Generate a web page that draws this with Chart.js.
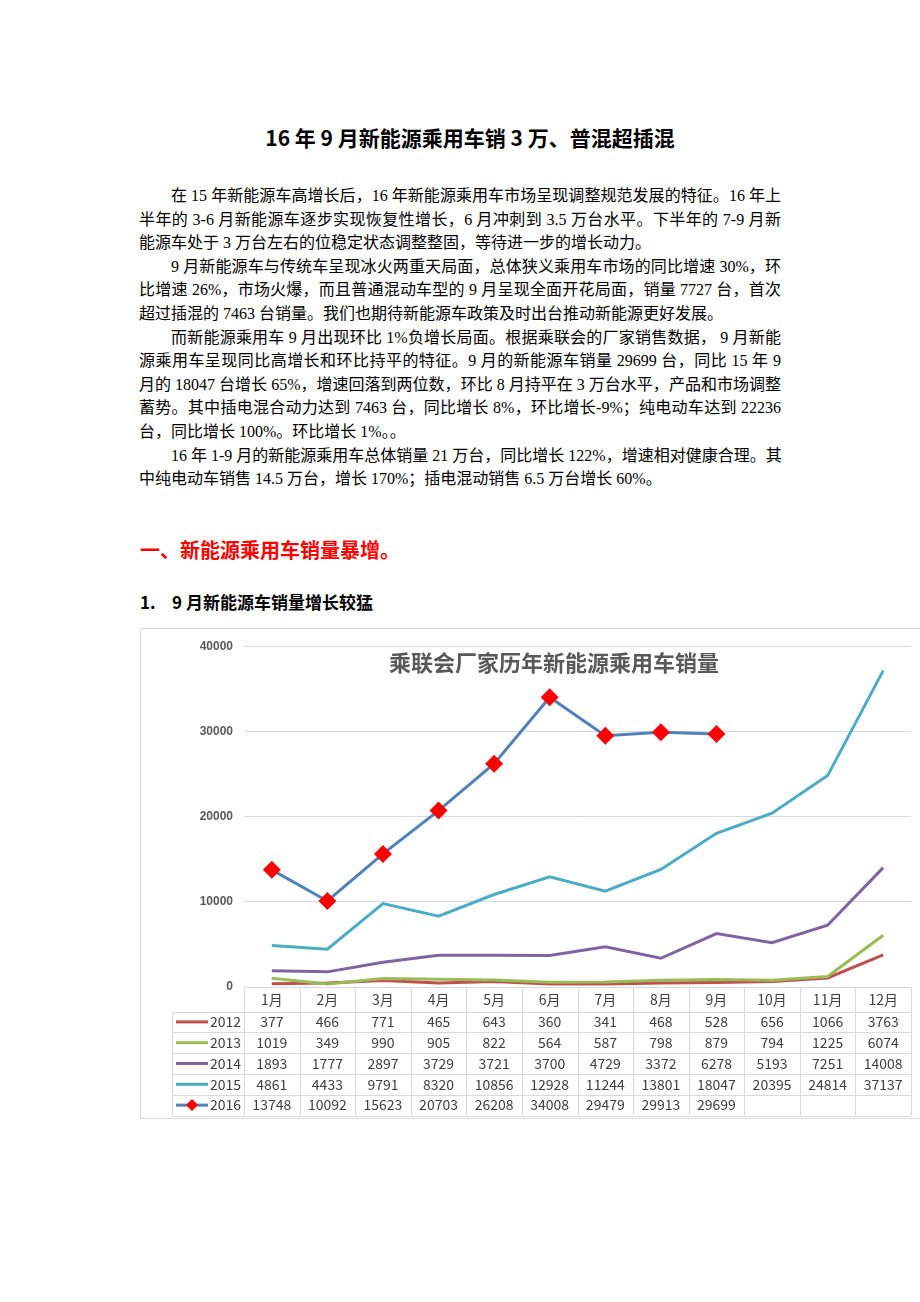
<!DOCTYPE html>
<html>
<head>
<meta charset="utf-8">
<script src="https://cdn.jsdelivr.net/npm/chart.js@4/dist/chart.umd.min.js"></script>
<style>
  html, body { margin: 0; padding: 0; background: #fff; }
  body { width: 920px; height: 1302px; position: relative; overflow: hidden; }
  .title {
    position: absolute; left: 149px; width: 642px; top: 124px;
    text-align: center; font: bold 21px "Noto Sans CJK SC", sans-serif; color: #000;
    line-height: 26px;
  }
  .body {
    position: absolute; left: 139px; width: 642px; top: 184px;
    font-family: "Liberation Serif", "Noto Sans CJK SC", serif; font-size: 16px; color: #000;
  }
  .body div { line-height: 23.6px; height: 23.6px; white-space: nowrap; text-align: justify; text-align-last: justify; }
  .body div.in { padding-left: 32px; }
  .body div.end { text-align-last: left; }
  .h1 {
    position: absolute; left: 140px; top: 536px;
    font: bold 20px "Noto Sans CJK SC", sans-serif; color: #ff0000; line-height: 28px;
  }
  .h2 {
    position: absolute; left: 140px; top: 589px;
    font: bold 17px "Noto Sans CJK SC", sans-serif; color: #000; line-height: 26px;
  }
  .h2 span { display: inline-block; width: 32px; }
  .box {
    position: absolute; left: 140px; top: 628px; width: 800px; height: 489px;
    border: 1px solid #d9d9d9;
  }
  #wrap { position: absolute; left: 140px; top: 628px; width: 780px; height: 492px; }
</style>
</head>
<body>
<div class="title">16 年 9 月新能源乘用车销 3 万、普混超插混</div>
<div class="body">
  <div class="in">在 15 年新能源车高增长后，16 年新能源乘用车市场呈现调整规范发展的特征。16 年上</div>
  <div>半年的 3-6 月新能源车逐步实现恢复性增长，6 月冲刺到 3.5 万台水平。下半年的 7-9 月新</div>
  <div class="end">能源车处于 3 万台左右的位稳定状态调整整固，等待进一步的增长动力。</div>
  <div class="in">9 月新能源车与传统车呈现冰火两重天局面，总体狭义乘用车市场的同比增速 30%，环</div>
  <div>比增速 26%，市场火爆，而且普通混动车型的 9 月呈现全面开花局面，销量 7727 台，首次</div>
  <div class="end">超过插混的 7463 台销量。我们也期待新能源车政策及时出台推动新能源更好发展。</div>
  <div class="in">而新能源乘用车 9 月出现环比 1%负增长局面。根据乘联会的厂家销售数据， 9 月新能</div>
  <div>源乘用车呈现同比高增长和环比持平的特征。9 月的新能源车销量 29699 台，同比 15 年 9</div>
  <div>月的 18047 台增长 65%，增速回落到两位数，环比 8 月持平在 3 万台水平，产品和市场调整</div>
  <div>蓄势。其中插电混合动力达到 7463 台，同比增长 8%，环比增长-9%；纯电动车达到 22236</div>
  <div class="end">台，同比增长 100%。环比增长 1%。。</div>
  <div class="in">16 年 1-9 月的新能源乘用车总体销量 21 万台，同比增长 122%，增速相对健康合理。其</div>
  <div class="end">中纯电动车销售 14.5 万台，增长 170%；插电混动销售 6.5 万台增长 60%。</div>
</div>
<div class="h1">一、新能源乘用车销量暴增。</div>
<div class="h2"><span>1.</span>9 月新能源车销量增长较猛</div>
<div class="box"></div>
<div id="wrap"><canvas id="salesChart" width="780" height="492"></canvas></div>

<script>
const months = ['1月', '2月', '3月', '4月', '5月', '6月', '7月', '8月', '9月', '10月', '11月', '12月'];
const years = ['2012', '2013', '2014', '2015', '2016'];
const sales2012 = [377, 466, 771, 465, 643, 360, 341, 468, 528, 656, 1066, 3763];
const sales2013 = [1019, 349, 990, 905, 822, 564, 587, 798, 879, 794, 1225, 6074];
const sales2014 = [1893, 1777, 2897, 3729, 3721, 3700, 4729, 3372, 6278, 5193, 7251, 14008];
const sales2015 = [4861, 4433, 9791, 8320, 10856, 12928, 11244, 13801, 18047, 20395, 24814, 37137];
const sales2016 = [13748, 10092, 15623, 20703, 26208, 34008, 29479, 29913, 29699, null, null, null];
const yTicks = [0, 10000, 20000, 30000, 40000];
const chartTitle = '乘联会厂家历年新能源乘用车销量';

const allSales = [sales2012, sales2013, sales2014, sales2015, sales2016];
const lineColors = ['#c0504d', '#9bbb59', '#8064a2', '#4bacc6', '#4f81bd'];
const markerColor = '#ff0000';

// title + data table under the plot, laid out on the x scale
const tablePlugin = {
    id: 'dataTable',
    afterDraw(chart) {
        const ctx = chart.ctx;
        const x = chart.scales.x;
        const area = chart.chartArea;
        const colW = x.getPixelForValue(1) - x.getPixelForValue(0);
        const top = Math.round(area.bottom) + 0.5;
        const headH = 24;
        const rowH = 20.8;
        const legendLeft = 32.5;
        const bottom = top + headH + rowH * years.length;

        ctx.save();
        ctx.fillStyle = '#595959';
        ctx.font = 'bold 22px "Noto Sans CJK SC"';
        ctx.textAlign = 'center';
        ctx.textBaseline = 'middle';
        ctx.fillText(chartTitle, 414, 35);

        ctx.strokeStyle = '#d9d9d9';
        ctx.lineWidth = 1;
        ctx.beginPath();
        for (let r = 0; r <= years.length; r++) {
            const y = Math.round(top + headH + r * rowH) + 0.5;
            ctx.moveTo(legendLeft, y);
            ctx.lineTo(area.right, y);
        }
        for (let c = 0; c <= months.length; c++) {
            const xx = Math.round(area.left + c * colW) + 0.5;
            ctx.moveTo(xx, top);
            ctx.lineTo(xx, bottom);
        }
        ctx.moveTo(legendLeft, top + headH);
        ctx.lineTo(legendLeft, bottom);
        ctx.stroke();

        ctx.fillStyle = '#404040';
        ctx.font = '14px "Noto Sans CJK SC"';
        ctx.textAlign = 'center';
        months.forEach((m, i) => {
            ctx.fillText(m, x.getPixelForValue(i), top + headH / 2);
        });

        years.forEach((yr, r) => {
            const cy = top + headH + rowH * r + rowH / 2;
            // legend sample
            ctx.strokeStyle = lineColors[r];
            ctx.lineWidth = 3;
            ctx.beginPath();
            ctx.moveTo(36, cy);
            ctx.lineTo(68, cy);
            ctx.stroke();
            if (r === years.length - 1) {
                ctx.fillStyle = markerColor;
                ctx.beginPath();
                ctx.moveTo(52 - 6, cy);
                ctx.lineTo(52, cy - 6);
                ctx.lineTo(52 + 6, cy);
                ctx.lineTo(52, cy + 6);
                ctx.closePath();
                ctx.fill();
            }
            ctx.fillStyle = '#404040';
            ctx.textAlign = 'right';
            ctx.fillText(yr, 101, cy);
            ctx.textAlign = 'center';
            allSales[r].forEach((v, i) => {
                if (v !== null) ctx.fillText(String(v), x.getPixelForValue(i), cy);
            });
        });
        ctx.restore();
    }
};

const ctx = document.getElementById('salesChart').getContext('2d');
const salesChart = new Chart(ctx, {
    type: 'line',
    data: {
        labels: months,
        datasets: years.map((yr, i) => ({
            label: yr,
            data: allSales[i],
            borderColor: lineColors[i],
            backgroundColor: lineColors[i],
            borderWidth: 3,
            tension: 0,
            fill: false,
            order: years.length - i,
            pointRadius: i === 4 ? 9 : 0,
            pointHoverRadius: i === 4 ? 9 : 0,
            pointStyle: 'rectRot',
            pointBackgroundColor: markerColor,
            pointBorderColor: markerColor,
            pointBorderWidth: 0
        }))
    },
    options: {
        responsive: false,
        animation: false,
        layout: { padding: { top: 15, bottom: 133, left: 0, right: 7 } },
        plugins: {
            legend: { display: false },
            tooltip: { enabled: false },
            title: { display: false }
        },
        scales: {
            x: {
                display: false,
                offset: true
            },
            y: {
                min: 0,
                max: 40000,
                afterBuildTicks: (scale) => { scale.ticks = yTicks.map(v => ({ value: v })); },
                afterFit: (scale) => { scale.width = 104; },
                border: { display: false },
                grid: { color: '#d9d9d9', drawTicks: false },
                ticks: {
                    padding: 11,
                    color: '#595959',
                    font: { family: 'Liberation Sans', size: 12, weight: 'bold' },
                    callback: (v) => String(v)
                }
            }
        }
    },
    plugins: [tablePlugin]
});
</script>
</body>
</html>
